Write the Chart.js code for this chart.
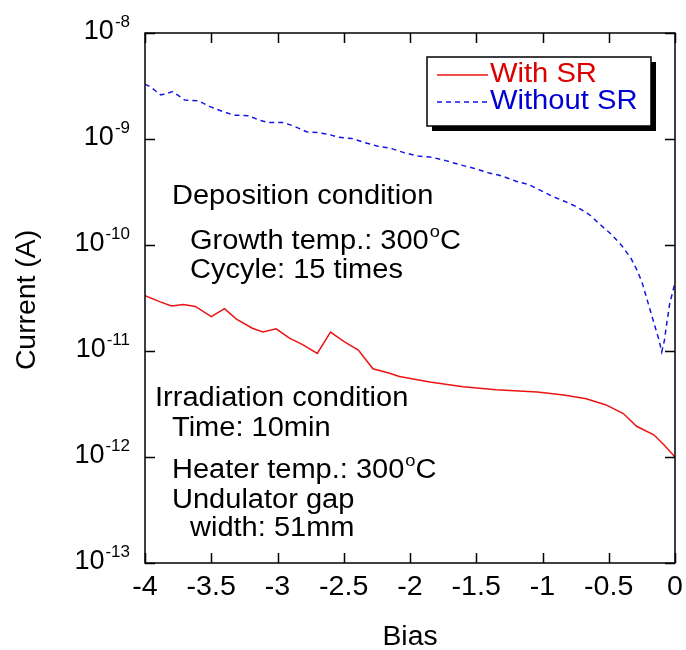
<!DOCTYPE html>
<html>
<head>
<meta charset="utf-8">
<script src="https://cdn.jsdelivr.net/npm/chart.js@4/dist/chart.umd.min.js"></script>
<style>
  body { margin: 0; background: #fff; }
</style>
</head>
<body>
<canvas id="myChart" width="686" height="650"></canvas>
<script>
// data
const biasWith = [-4.00, -3.89, -3.80, -3.71, -3.62, -3.50, -3.40, -3.31, -3.19, -3.11, -3.01, -2.91, -2.81, -2.70,
  -2.60, -2.50, -2.39, -2.28, -2.16, -2.08, -1.85, -1.60, -1.35, -1.04, -0.84, -0.67, -0.52, -0.39, -0.29, -0.16, -0.08, 0.00];
const currentWith = [3.33e-11, 2.92e-11, 2.66e-11, 2.75e-11, 2.63e-11, 2.11e-11, 2.51e-11, 2.0e-11, 1.64e-11, 1.51e-11,
  1.62e-11, 1.32e-11, 1.15e-11, 9.5e-12, 1.51e-11, 1.23e-11, 1.02e-11, 6.8e-12, 6.2e-12, 5.75e-12, 5.1e-12, 4.6e-12,
  4.3e-12, 4.1e-12, 3.85e-12, 3.55e-12, 3.1e-12, 2.57e-12, 1.95e-12, 1.62e-12, 1.29e-12, 1.0e-12];

const biasWithout = [-4.00, -3.96, -3.88, -3.79, -3.70, -3.60, -3.51, -3.41, -3.33, -3.22, -3.14, -3.07, -2.96, -2.88,
  -2.78, -2.70, -2.62, -2.54, -2.44, -2.36, -2.25, -2.15, -2.04, -1.94, -1.83, -1.73, -1.62, -1.52, -1.41, -1.31, -1.20,
  -1.10, -1.00, -0.92, -0.83, -0.74, -0.65, -0.57, -0.48, -0.40, -0.33, -0.29, -0.25, -0.20, -0.16, -0.12, -0.10, -0.08,
  -0.06, -0.04, -0.02, 0.00];
const currentWithout = [3.3e-9, 3.1e-9, 2.6e-9, 2.8e-9, 2.33e-9, 2.3e-9, 2.02e-9, 1.81e-9, 1.68e-9, 1.66e-9, 1.51e-9,
  1.43e-9, 1.43e-9, 1.33e-9, 1.17e-9, 1.15e-9, 1.11e-9, 1.04e-9, 1.01e-9, 9.4e-10, 8.6e-10, 8.2e-10, 7.4e-10, 6.9e-10,
  6.7e-10, 6.25e-10, 5.7e-10, 5.3e-10, 4.8e-10, 4.5e-10, 4.0e-10, 3.7e-10, 3.2e-10, 2.86e-10, 2.57e-10, 2.29e-10,
  1.95e-10, 1.58e-10, 1.26e-10, 9.8e-11, 7.4e-11, 5.9e-11, 4.5e-11, 2.75e-11, 1.86e-11, 1.26e-11, 9.8e-12, 1.26e-11,
  1.9e-11, 2.8e-11, 3.5e-11, 4.4e-11];

const xTicks = [-4, -3.5, -3, -2.5, -2, -1.5, -1, -0.5, 0];
const xTickLabels = ["-4", "-3.5", "-3", "-2.5", "-2", "-1.5", "-1", "-0.5", "0"];
const yTicks = [1e-8, 1e-9, 1e-10, 1e-11, 1e-12, 1e-13];
const yTickExponents = ["-8", "-9", "-10", "-11", "-12", "-13"];

// note lines: [normal, superscript, normal, ...]
const notes = [
  ["Deposition condition"],
  ["Growth temp.: 300", "o", "C"],
  ["Cycyle: 15 times"],
  ["Irradiation condition"],
  ["Time: 10min"],
  ["Heater temp.: 300", "o", "C"],
  ["Undulator gap"],
  ["width: 51mm"],
];

const FONT = '"Liberation Sans", Arial, sans-serif';
const SIZE = 27;
const SUP = 17;
const RED = "rgb(235, 20, 20)";
const BLUE = "rgb(20, 20, 230)";

// text a little wider than the font, like the original
function stretchText(ctx, text, x, y, sx) {
  ctx.save();
  ctx.translate(x, y);
  ctx.scale(sx, 1);
  ctx.fillText(text, 0, 0);
  ctx.restore();
  return ctx.measureText(text).width * sx;
}

// draws text with superscripts, parts alternate normal / raised
function drawParts(ctx, parts, x, y, sx) {
  ctx.textAlign = "left";
  ctx.textBaseline = "middle";
  parts.forEach((p, i) => {
    if (i % 2 === 0) {
      ctx.font = SIZE + "px " + FONT;
      x += stretchText(ctx, p, x, y, sx);
    } else {
      ctx.font = SUP + "px " + FONT;
      x += stretchText(ctx, p, x + 1, y - 10, sx) + 1;
    }
  });
  return x;
}
function partsWidth(ctx, parts, sx) {
  let w = 0;
  parts.forEach((p, i) => {
    ctx.font = (i % 2 === 0 ? SIZE : SUP) + "px " + FONT;
    w += ctx.measureText(p).width * sx + (i % 2 ? 1 : 0);
  });
  return w;
}

const framePlugin = {
  id: "frame",
  afterDraw(chart) {
    const ctx = chart.ctx;
    const a = chart.chartArea;
    const xs = chart.scales.x;
    const ys = chart.scales.y;
    ctx.save();
    ctx.strokeStyle = "#000";
    ctx.fillStyle = "#000";
    ctx.lineWidth = 1.5;
    ctx.strokeRect(a.left, a.top, a.right - a.left, a.bottom - a.top);

    // inward ticks on all sides
    ctx.beginPath();
    xTicks.forEach((v) => {
      const px = Math.round(xs.getPixelForValue(v)) + 0.5;
      ctx.moveTo(px, a.bottom); ctx.lineTo(px, a.bottom - 10);
      ctx.moveTo(px, a.top); ctx.lineTo(px, a.top + 10);
    });
    yTicks.forEach((v) => {
      const py = Math.round(ys.getPixelForValue(v)) + 0.5;
      ctx.moveTo(a.left, py); ctx.lineTo(a.left + 10, py);
      ctx.moveTo(a.right, py); ctx.lineTo(a.right - 10, py);
    });
    ctx.stroke();

    // tick labels
    ctx.font = SIZE + "px " + FONT;
    ctx.textAlign = "center";
    ctx.textBaseline = "middle";
    xTicks.forEach((v, i) => {
      ctx.save();
      ctx.translate(xs.getPixelForValue(v), a.bottom + 25);
      ctx.scale(1.06, 1);
      ctx.fillText(xTickLabels[i], 0, 0);
      ctx.restore();
    });
    yTicks.forEach((v, i) => {
      const parts = ["10", yTickExponents[i]];
      const w = partsWidth(ctx, parts, 1.0);
      drawParts(ctx, parts, a.left - 15 - w, ys.getPixelForValue(v) - 1, 1.0);
    });

    // axis titles
    ctx.font = SIZE + "px " + FONT;
    ctx.textAlign = "center";
    ctx.textBaseline = "middle";
    ctx.save();
    ctx.translate((a.left + a.right) / 2, 638);
    ctx.scale(1.05, 1);
    ctx.fillText("Bias", 0, 0);
    ctx.restore();
    ctx.save();
    ctx.translate(28, 300);
    ctx.rotate(-Math.PI / 2);
    ctx.scale(1.05, 1);
    ctx.fillText("Current (A)", 0, 0);
    ctx.restore();

    // notes inside the plot
    const noteX = [172, 190, 190, 155, 172, 172, 172, 190];
    const noteY = [197, 242, 271, 399, 429, 471, 501, 529];
    notes.forEach((parts, i) => drawParts(ctx, parts, noteX[i], noteY[i], 1.075));

    // legend box with drop shadow
    const L = { x: 427, y: 57, w: 224, h: 69 };
    ctx.fillRect(L.x + 5, L.y + 5, L.w, L.h);
    ctx.fillStyle = "#fff";
    ctx.fillRect(L.x, L.y, L.w, L.h);
    ctx.strokeRect(L.x, L.y, L.w, L.h);
    chart.data.datasets.forEach((ds, i) => {
      const ly = L.y + 18 + i * 27;
      ctx.strokeStyle = ds.borderColor;
      ctx.lineWidth = 1.5;
      ctx.setLineDash(ds.borderDash || []);
      ctx.beginPath();
      ctx.moveTo(L.x + 10, ly);
      ctx.lineTo(L.x + 61, ly);
      ctx.stroke();
      ctx.setLineDash([]);
      ctx.fillStyle = i === 0 ? "rgb(220, 0, 0)" : "rgb(0, 0, 210)";
      drawParts(ctx, [ds.label], L.x + 63, ly, 1.08);
    });
    ctx.restore();
  },
};

const config = {
  type: "line",
  data: {
    datasets: [
      {
        label: "With SR",
        data: biasWith.map((b, i) => ({ x: b, y: currentWith[i] })),
        borderColor: RED,
        borderWidth: 1.5,
        pointRadius: 0,
        tension: 0,
        fill: false,
      },
      {
        label: "Without SR",
        data: biasWithout.map((b, i) => ({ x: b, y: currentWithout[i] })),
        borderColor: BLUE,
        borderWidth: 1.5,
        borderDash: [5, 4],
        pointRadius: 0,
        tension: 0,
        fill: false,
      },
    ],
  },
  options: {
    responsive: false,
    animation: false,
    layout: { padding: { left: 145, right: 11, top: 33, bottom: 87 } },
    plugins: { legend: { display: false }, tooltip: { enabled: false } },
    scales: {
      x: { type: "linear", min: -4, max: 0, display: false },
      y: { type: "logarithmic", min: 1e-13, max: 1e-8, display: false },
    },
  },
  plugins: [framePlugin],
};

const myChart = new Chart(document.getElementById("myChart"), config);
</script>
</body>
</html>
